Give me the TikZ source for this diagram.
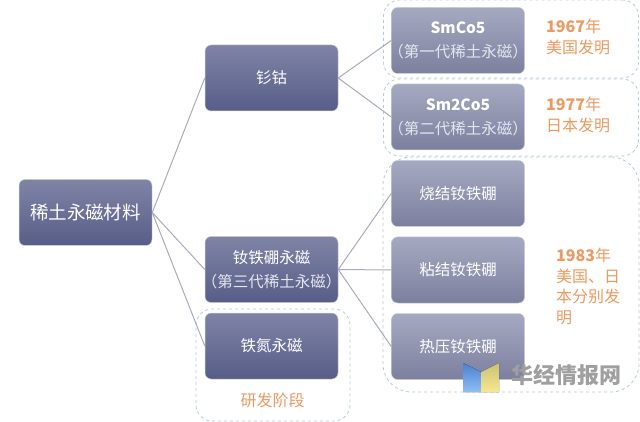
\documentclass[tikz,border=0pt]{standalone}
\usepackage{fontspec}
\setmainfont{Noto Sans CJK SC}
\usetikzlibrary{positioning}
\definecolor{darktop}{HTML}{7F84A6}
\definecolor{darkbot}{HTML}{575D87}
\definecolor{lighttop}{HTML}{A5A9C0}
\definecolor{lightbot}{HTML}{7C809F}
\definecolor{edgegray}{HTML}{A9ABBB}
\definecolor{framecol}{HTML}{B4CCD8}
\definecolor{notecol}{HTML}{EC9A60}
\definecolor{subcol}{HTML}{E4E6EE}
\definecolor{marktopL}{HTML}{4A80D0}
\definecolor{markbotL}{HTML}{8FBFF5}
\definecolor{marktopR}{HTML}{C9C27A}
\definecolor{markbotR}{HTML}{F8E78C}
\tikzset{
  darkbox/.style={rectangle, rounded corners=6pt, draw=white!70!darkbot, line width=0.5pt, top color=darktop, bottom color=darkbot, text=white, inner xsep=3pt, text width=127pt, minimum height=66pt, align=center, font=\fontsize{15.5}{24}\selectfont},
  lightbox/.style={darkbox, top color=lighttop, bottom color=lightbot},
  framebox/.style={rectangle, draw=framecol, dashed, line width=0.8pt},
  notetext/.style={text=notecol, align=left, anchor=north west, inner sep=0pt, font=\fontsize{16}{20.5}\selectfont},
  edge/.style={draw=edgegray, line width=1pt},
}
\newcommand{\subtext}[1]{\makebox[127pt][c]{\color{subcol}#1}}
\begin{document}
\begin{tikzpicture}[x=1pt, y=1pt, node distance=10pt]
\useasboundingbox (0,0) rectangle (640,-422);

% Cuadros de la derecha
\node (frameA) [framebox, rounded corners=16pt, minimum width=255pt, minimum height=78pt] at (511,-39) {};
\node (frameB) [framebox, rounded corners=16pt, minimum width=255pt, minimum height=77pt] at (511,-117.5) {};
\node (frameC) [framebox, rounded corners=28pt, minimum width=256pt, minimum height=235pt] at (511,-274.5) {};
\node (frameD) [framebox, rounded corners=16pt, minimum width=154pt, minimum height=112pt] at (273,-365) {};

% Cajas
\node (root) [darkbox, font=\fontsize{18.5}{24}\selectfont] at (85.5,-212.5) {稀土永磁材料};
\node (smco) [darkbox] at (271.5,-78) {钐钴};
\node (ndfeb) [darkbox] at (271.5,-269.5) {钕铁硼永磁\\\subtext{（第三代稀土永磁）}};
\node (fen) [darkbox, below=of ndfeb] {铁氮永磁};

\node (first) [lightbox] at (458,-40.5) {\textbf{SmCo5}\\\subtext{（第一代稀土永磁）}};
\node (second) [lightbox, below=of first] {\textbf{Sm2Co5}\\\subtext{（第二代稀土永磁）}};
\node (sinter) [lightbox, below=of second] {烧结钕铁硼};
\node (bond) [lightbox, below=of sinter] {粘结钕铁硼};
\node (hot) [lightbox, below=of bond] {热压钕铁硼};

% Lineas
\draw[edge] (root.east) -- (smco.west);
\draw[edge] (root.east) -- (ndfeb.west);
\draw[edge] (root.east) -- (fen.west);
\draw[edge] (smco.east) -- (first.west);
\draw[edge] (smco.east) -- (second.west);
\draw[edge] (ndfeb.east) -- (sinter.west);
\draw[edge] (ndfeb.east) -- (bond.west);
\draw[edge] (ndfeb.east) -- (hot.west);

% Notas
\node (noteA) [notetext] at (546,-19) {\textbf{1967}年\\美国发明};
\node (noteB) [notetext] at (546,-97) {\textbf{1977}年\\日本发明};
\node (noteC) [notetext] at (556,-248) {\textbf{1983}年\\美国、日\\本分别发\\明};
\node (noteD) [notetext, anchor=center, align=center] at (272.5,-400) {研发阶段};

% Marca de agua
\fill[top color=marktopL, bottom color=markbotL] (463,-363) -- (481,-372) -- (481,-392) -- (463,-392) -- cycle;
\fill[top color=marktopR, bottom color=markbotR] (481,-372) -- (499,-363) -- (499,-392) -- (481,-392) -- cycle;
\node (mark) [text=gray!75, inner sep=0pt, font=\fontsize{22}{24}\selectfont\bfseries] at (566,-375) {华经情报网};

\end{tikzpicture}
\end{document}
